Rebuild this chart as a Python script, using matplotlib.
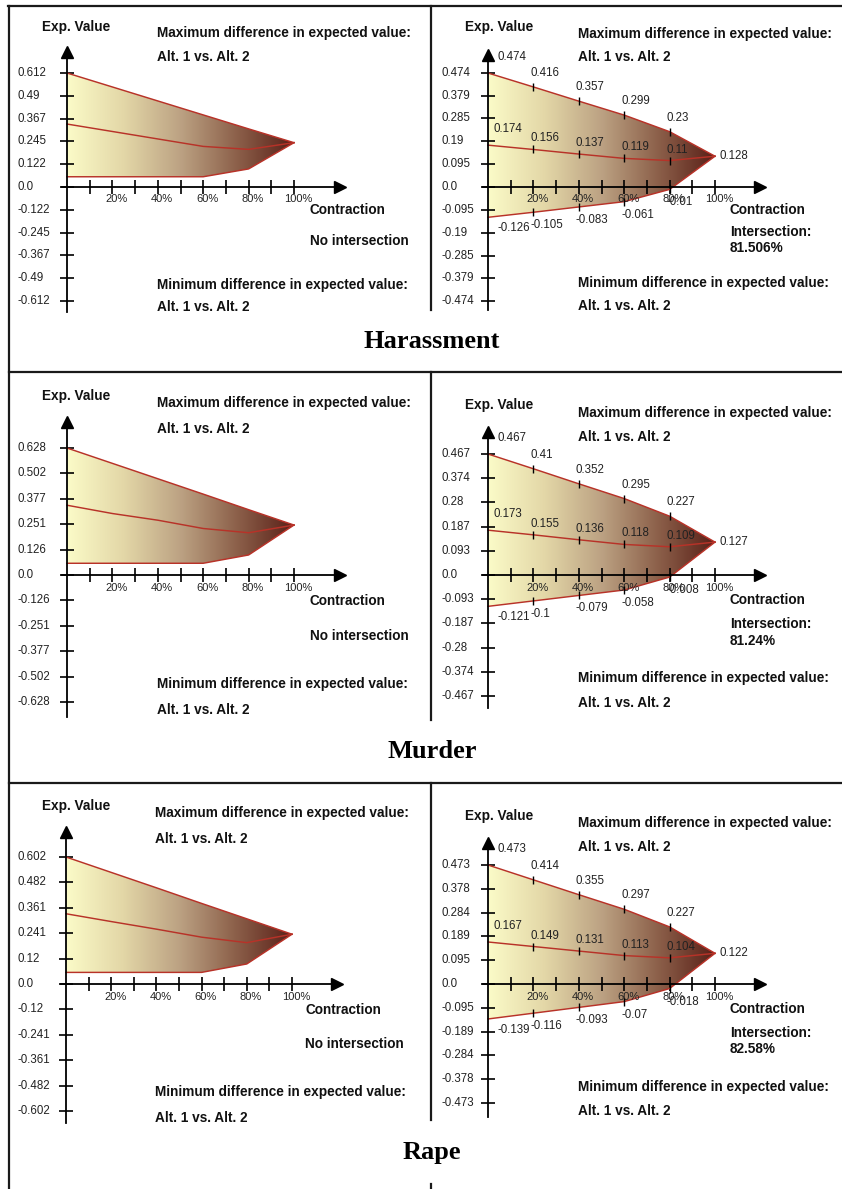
import matplotlib
matplotlib.use("Agg")
import matplotlib.pyplot as plt
import numpy as np
from matplotlib.colors import LinearSegmentedColormap
from matplotlib.patches import Polygon

# ---------------- data ----------------
contraction = [0, 20, 40, 60, 80, 100]
x_tick_pos = [10, 20, 30, 40, 50, 60, 70, 80, 90, 100]
x_tick_labels = ["", "20%", "", "40%", "", "60%", "", "80%", "", "100%"]
crimes = ["Harassment", "Murder", "Rape"]

# left panels (no intersection)
har_l_ticks = [0.612, 0.49, 0.367, 0.245, 0.122]
har_l_upper = [0.612, 0.537, 0.462, 0.387, 0.312, 0.238]
har_l_mid = [0.338, 0.298, 0.258, 0.218, 0.202, 0.238]
har_l_lower = [0.055, 0.055, 0.055, 0.055, 0.097, 0.238]

mur_l_ticks = [0.628, 0.502, 0.377, 0.251, 0.126]
mur_l_upper = [0.628, 0.552, 0.476, 0.400, 0.323, 0.247]
mur_l_mid = [0.345, 0.304, 0.271, 0.230, 0.209, 0.247]
mur_l_lower = [0.058, 0.058, 0.058, 0.058, 0.099, 0.247]

rap_l_ticks = [0.602, 0.482, 0.361, 0.241, 0.12]
rap_l_upper = [0.602, 0.529, 0.456, 0.382, 0.309, 0.236]
rap_l_mid = [0.333, 0.296, 0.260, 0.222, 0.196, 0.236]
rap_l_lower = [0.055, 0.055, 0.055, 0.055, 0.095, 0.236]

# right panels (with intersection)
har_r_ticks = [0.474, 0.379, 0.285, 0.19, 0.095]
har_r_upper = [0.474, 0.416, 0.357, 0.299, 0.23, 0.128]
har_r_mid = [0.174, 0.156, 0.137, 0.119, 0.11, 0.128]
har_r_lower = [-0.126, -0.105, -0.083, -0.061, -0.01, 0.128]
har_r_inter = "81.506%"

mur_r_ticks = [0.467, 0.374, 0.28, 0.187, 0.093]
mur_r_upper = [0.467, 0.41, 0.352, 0.295, 0.227, 0.127]
mur_r_mid = [0.173, 0.155, 0.136, 0.118, 0.109, 0.127]
mur_r_lower = [-0.121, -0.1, -0.079, -0.058, -0.008, 0.127]
mur_r_inter = "81.24%"

rap_r_ticks = [0.473, 0.378, 0.284, 0.189, 0.095]
rap_r_upper = [0.473, 0.414, 0.355, 0.297, 0.227, 0.122]
rap_r_mid = [0.167, 0.149, 0.131, 0.113, 0.104, 0.122]
rap_r_lower = [-0.139, -0.116, -0.093, -0.07, -0.018, 0.122]
rap_r_inter = "82.58%"

# ---------------- style ----------------
W, H = 842, 1189
DPI = 100
SANS = ["Liberation Sans", "DejaVu Sans"]
SERIF = ["Liberation Serif", "DejaVu Serif"]
RED = "#B83228"
cmap = LinearSegmentedColormap.from_list(
    "grad", [(0, "#FBFBC8"), (0.25, "#E3D7A7"), (0.5, "#BCA283"),
             (0.75, "#8C604A"), (1, "#5A2018")])

fig = plt.figure(figsize=(W / DPI, H / DPI), dpi=DPI)
fig.patch.set_facecolor("white")

bg = fig.add_axes([0, 0, 1, 1])
bg.set_xlim(0, W)
bg.set_ylim(H, 0)
bg.axis("off")

# table borders
BK = "#1a1a1a"
bg.plot([8, W], [6, 6], color=BK, lw=1.6)
bg.plot([9, 9], [6, H], color=BK, lw=1.6)
bg.plot([9, W], [372, 372], color=BK, lw=1.6)
bg.plot([9, W], [783, 783], color=BK, lw=1.6)
for ya, yb in [(6, 310), (372, 720), (783, 1120), (1184, H)]:
    bg.plot([431, 431], [ya, yb], color=BK, lw=1.6)

title_y = [341, 752, 1153]
for name, ty in zip(crimes, title_y):
    bg.text(432, ty, name, fontsize=19, fontweight="bold", family=SERIF,
            ha="center", va="center")


def btext(x, y, s):
    bg.text(x, y, s, fontsize=9.8, fontweight="bold", family=SANS,
            ha="left", va="center", color="#111111")


def draw_panel(geo, ticks, upper, mid, lower, right, inter=None):
    x0, x100, y0, ytop, ya, yb, xa, lab_x, xlab_dy = geo["axis"]
    t0 = ticks[0]
    dpp = 100.0 / (x100 - x0)
    vpp = t0 / (y0 - ytop)
    left_px, right_px = x0 - 5, xa - 5
    top_px, bottom_px = ya + 5, yb
    ax = fig.add_axes([left_px / W, 1 - bottom_px / H,
                       (right_px - left_px) / W, (bottom_px - top_px) / H])
    ax.patch.set_visible(False)

    # gradient fill between upper and lower lines
    verts = list(zip(contraction, upper)) + list(zip(contraction[::-1], lower[::-1]))
    poly = Polygon(verts, closed=True, facecolor="none", edgecolor="none")
    ax.add_patch(poly)
    grad = np.linspace(0, 1, 256).reshape(1, -1)
    im = ax.imshow(grad, extent=[0, 100, min(lower), max(upper)], aspect="auto",
                   cmap=cmap, origin="lower", zorder=1, interpolation="bilinear")
    im.set_clip_path(poly)

    for ser in (upper, mid, lower):
        ax.plot(contraction, ser, color=RED, lw=1.05, zorder=3)

    ax.set_xlim((left_px - x0) * dpp, (right_px - x0) * dpp)
    ax.set_ylim(-(bottom_px - y0) * vpp, (y0 - top_px) * vpp)

    for s in ("top", "right"):
        ax.spines[s].set_visible(False)
    ax.spines["left"].set_position(("data", 0))
    ax.spines["bottom"].set_position(("data", 0))
    for s in ("left", "bottom"):
        ax.spines[s].set_linewidth(1.3)
        ax.spines[s].set_color("black")
        ax.spines[s].set_zorder(5)
    ax.plot(1, 0, marker=">", ms=9, color="black", transform=ax.get_yaxis_transform(),
            clip_on=False, zorder=6)
    ax.plot(0, 1, marker="^", ms=9, color="black", transform=ax.get_xaxis_transform(),
            clip_on=False, zorder=6)

    yvals = list(ticks) + [0.0] + [-t for t in ticks]
    ylabs = [f"{t:g}" for t in ticks] + ["0.0"] + [f"{-t:g}" for t in ticks]
    ax.set_yticks(yvals)
    ax.set_yticklabels([])
    ax.set_xticks(x_tick_pos)
    ax.set_xticklabels([])
    ax.tick_params(axis="both", direction="inout", length=10, width=1.2, color="black")
    for v, s in zip(yvals, ylabs):
        ax.annotate(s, (0, v), xytext=(lab_x - x0, 0), textcoords="offset pixels",
                    ha="left", va="center", fontsize=8.3, family=SANS,
                    color="#222222", annotation_clip=False)
    for p, s in zip(x_tick_pos, x_tick_labels):
        if s:
            ax.annotate(s, (p, 0), xytext=(4, -xlab_dy), textcoords="offset pixels",
                        ha="center", va="center", fontsize=8, family=SANS,
                        color="#222222", annotation_clip=False)

    if right:
        for ser in (upper, mid, lower):
            ax.plot(contraction[1:5], ser[1:5], ls="none", marker="|", ms=6, mew=1.0,
                    color="black", zorder=4)
        offs = {"u": [(10, 16), (-3, 14)], "m": [(6, 16), (-3, 11)],
                "l": [(10, -11), (-3, -13)]}
        for key, ser in (("u", upper), ("m", mid), ("l", lower)):
            for i in range(5):
                off = offs[key][0] if i == 0 else offs[key][1]
                ax.annotate(f"{ser[i]:g}", (contraction[i], ser[i]), xytext=off,
                            textcoords="offset pixels", ha="left", va="center",
                            fontsize=8.3, family=SANS, color="#222222", zorder=7)
        ax.annotate(f"{upper[5]:g}", (contraction[5], upper[5]), xytext=(5, 0),
                    textcoords="offset pixels", ha="left", va="center",
                    fontsize=8.3, family=SANS, color="#222222")

    t = geo["text"]
    btext(*t["exp"], "Exp. Value")
    btext(*t["max"], "Maximum difference in expected value:")
    btext(*t["alt1"], "Alt. 1 vs. Alt. 2")
    btext(*t["contr"], "Contraction")
    if right:
        btext(*t["inter"], "Intersection:")
        btext(*t["ival"], inter)
    else:
        btext(*t["inter"], "No intersection")
    btext(*t["min"], "Minimum difference in expected value:")
    btext(*t["alt2"], "Alt. 1 vs. Alt. 2")


geos = [
    # row 1
    {"axis": (67, 294, 187, 73, 47, 312, 345, 17.5, 12),
     "text": {"exp": (42, 27), "max": (157, 33), "alt1": (157, 57), "contr": (310, 210),
              "inter": (310, 241), "min": (157, 285), "alt2": (157, 307)}},
    {"axis": (488, 715, 187, 73, 50, 310, 765, 441, 12),
     "text": {"exp": (465, 27), "max": (578, 34), "alt1": (578, 57), "contr": (730, 210),
              "inter": (730, 232), "ival": (730, 248), "min": (578, 283), "alt2": (578, 306)}},
    # row 2
    {"axis": (67, 294, 575, 448, 417, 717, 345, 17.5, 13),
     "text": {"exp": (42, 396), "max": (157, 403), "alt1": (157, 429), "contr": (310, 601),
              "inter": (310, 636), "min": (157, 684), "alt2": (157, 710)}},
    {"axis": (488, 715, 575, 454, 427, 708, 765, 441, 13),
     "text": {"exp": (465, 405), "max": (578, 413), "alt1": (578, 437), "contr": (730, 600),
              "inter": (730, 624), "ival": (730, 641), "min": (578, 678), "alt2": (578, 703)}},
    # row 3
    {"axis": (66, 292, 984, 857, 827, 1123, 342, 17, 13),
     "text": {"exp": (42, 806), "max": (155, 813), "alt1": (155, 839), "contr": (305, 1010),
              "inter": (305, 1044), "min": (155, 1092), "alt2": (155, 1118)}},
    {"axis": (488, 715, 984, 865, 838, 1117, 765, 441, 13),
     "text": {"exp": (465, 816), "max": (578, 823), "alt1": (578, 847), "contr": (730, 1009),
              "inter": (730, 1033), "ival": (730, 1049), "min": (578, 1087), "alt2": (578, 1111)}},
]

draw_panel(geos[0], har_l_ticks, har_l_upper, har_l_mid, har_l_lower, False)
draw_panel(geos[1], har_r_ticks, har_r_upper, har_r_mid, har_r_lower, True, har_r_inter)
draw_panel(geos[2], mur_l_ticks, mur_l_upper, mur_l_mid, mur_l_lower, False)
draw_panel(geos[3], mur_r_ticks, mur_r_upper, mur_r_mid, mur_r_lower, True, mur_r_inter)
draw_panel(geos[4], rap_l_ticks, rap_l_upper, rap_l_mid, rap_l_lower, False)
draw_panel(geos[5], rap_r_ticks, rap_r_upper, rap_r_mid, rap_r_lower, True, rap_r_inter)

fig.savefig("out.png", dpi=DPI, facecolor="white")
